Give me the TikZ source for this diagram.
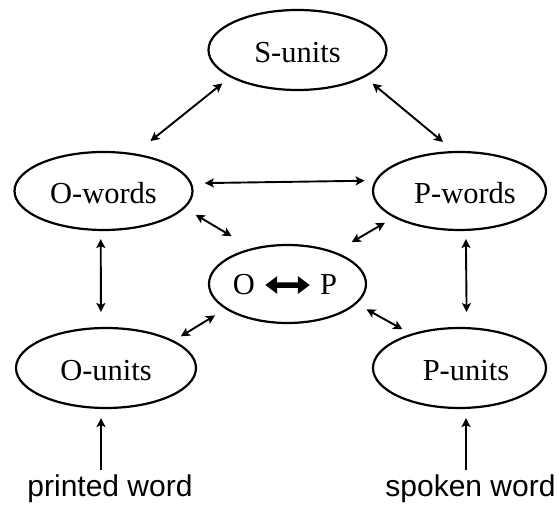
\documentclass[tikz,border=0pt]{standalone}
\usepackage{fontspec}
\setmainfont{Liberation Serif}
\newfontfamily\inputsans{Liberation Sans}
\usetikzlibrary{arrows.meta,shapes.geometric}

\begin{document}
\begin{tikzpicture}[x=1pt,y=1pt,
  unit/.style={ellipse, draw, line width=2.2pt, inner sep=0pt,
    text height=26pt, text depth=0pt, font=\fontsize{30.5}{36}\selectfont},
  link/.style={{Stealth[length=9pt,width=9pt,inset=2pt]}-{Stealth[length=9pt,width=9pt,inset=2pt]}, line width=1.9pt},
  feed/.style={-{Stealth[length=9pt,width=9pt,inset=2pt]}, line width=1.9pt},
  letter/.style={font=\fontsize{30.5}{36}\selectfont, inner sep=0pt, anchor=base},
  inputtext/.style={font=\inputsans\fontsize{30}{36}\selectfont, inner sep=0pt, anchor=base},
  bigarrow/.style={{Triangle[length=12pt,width=17pt]}-{Triangle[length=12pt,width=17pt]},
    line width=5.5pt, shorten <=10pt, shorten >=10pt}
]
\useasboundingbox (0,0) rectangle (559,505);

% processing units
\node[unit, minimum width=178pt, minimum height=80pt] (s)  at (297.5,455) {S-units\hspace{7pt}};
\node[unit, minimum width=178pt, minimum height=78pt] (ow) at (103.5,314) {O-words\hspace{21pt}};
\node[unit, minimum width=173pt, minimum height=78pt] (pw) at (459.5,314) {\hspace*{11pt}P-words};
\node[unit, minimum width=157pt, minimum height=78pt] (op) at (287.5,221) {};
\node[unit, minimum width=180pt, minimum height=80pt] (ou) at (106,137)   {O-units\hspace{24pt}};
\node[unit, minimum width=173pt, minimum height=80pt] (pu) at (459.5,137) {\hspace*{13pt}P-units};

% orthography <-> phonology inside the central unit
\node[letter] (o) at (244,210) {O};
\node[letter] (p) at (328.5,210) {P};
\draw[bigarrow] (o) -- (p);

% bidirectional links between units
\draw[link, shorten <=9.8pt,  shorten >=19.8pt] (s.202.2)   -- (ow.50.9);
\draw[link, shorten <=9.8pt,  shorten >=14.1pt] (s.338)     -- (pw.98.3);
\draw[link, shorten <=12.9pt, shorten >=10.3pt] (ow.5.9)    -- (pw.173.9);
\draw[link, shorten <=12.6pt, shorten >=23.3pt] (ow.348.6)  -- (op.135.8);
\draw[link, shorten <=10.3pt, shorten >=19.2pt] (pw.202.9)  -- (op.34.5);
\draw[link, shorten <=8.1pt,  shorten >=12.1pt] (ou.22.5)   -- (op.202.5);
\draw[link, shorten <=11.2pt, shorten >=9.6pt]  (op.344.8)  -- (pu.145.3);
\draw[link, shorten <=8pt,    shorten >=15pt]   (ow.266.3)  -- (ou.97.1);
\draw[link, shorten <=8pt,    shorten >=15pt]   (pw.279.5)  -- (pu.80.8);

% inputs
\node[inputtext] (printed) at (110,8) {printed word};
\node[inputtext] (spoken)  at (470.5,8) {spoken word};
\coordinate (printedin) at (101,35);
\coordinate (spokenin)  at (466,35);
\draw[feed, shorten >=9pt] (printedin) -- (printedin |- ou.south);
\draw[feed, shorten >=9pt] (spokenin)  -- (spokenin |- pu.south);
\end{tikzpicture}
\end{document}
